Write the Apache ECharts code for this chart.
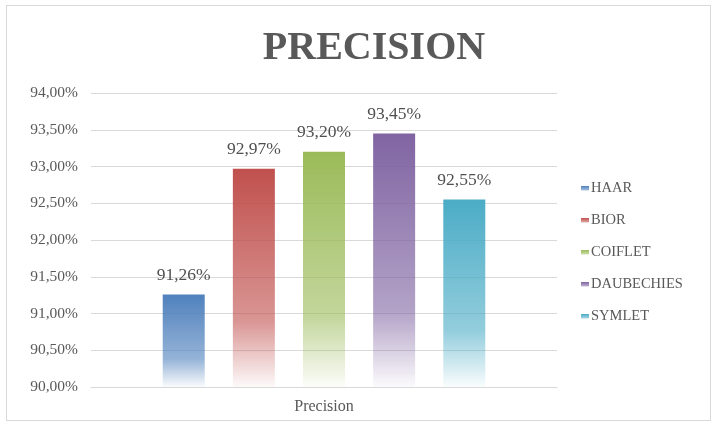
<!DOCTYPE html>
<html><head><meta charset="utf-8">
<script src="https://cdn.jsdelivr.net/npm/echarts@6/dist/echarts.min.js"></script>
<style>html,body{margin:0;padding:0;background:#fff}
#c{position:absolute;left:0;top:0;width:717px;height:427px}
#b{position:absolute;left:6px;top:5px;width:705px;height:416px;border:1px solid #d9d9d9;box-sizing:border-box}</style>
</head><body><div id="b"></div><div id="c"></div>
<script>
const categories = ['Precision'];
const seriesNames = ['HAAR', 'BIOR', 'COIFLET', 'DAUBECHIES', 'SYMLET'];
const seriesValues = [91.26, 92.97, 93.20, 93.45, 92.55];
const seriesColors = ['#4F81BD', '#C0504D', '#9BBB59', '#8064A2', '#4BACC6'];

function hexA(h, a) {
  const r = parseInt(h.slice(1,3),16), g = parseInt(h.slice(3,5),16), b = parseInt(h.slice(5,7),16);
  return 'rgba(' + r + ',' + g + ',' + b + ',' + a + ')';
}
const fmt = v => v.toFixed(2).replace('.', ',') + '%';
const serif = '"Liberation Serif", "DejaVu Serif", serif';

const chart = echarts.init(document.getElementById('c'));
chart.setOption({
  animation: false,
  title: { text: 'PRECISION', left: 369, top: 24, textAlign: 'center',
    textStyle: { fontFamily: serif, fontWeight: 'bold', fontSize: 40, color: '#595959' } },
  legend: { orient: 'vertical', left: 576, top: 176, itemGap: 17, itemWidth: 8, itemHeight: 5,
    icon: 'rect', textStyle: { fontFamily: serif, fontSize: 14.5, color: '#595959', padding: [0,0,0,-3] } },
  grid: { left: 91, right: 160, top: 93, bottom: 40 },
  xAxis: { type: 'category', data: categories,
    axisLine: { lineStyle: { color: '#d9d9d9', width: 1 } }, axisTick: { show: false },
    axisLabel: { fontFamily: serif, fontSize: 16, color: '#595959', margin: 12 } },
  yAxis: { type: 'value', min: 90, max: 94, interval: 0.5,
    axisLabel: { formatter: fmt, fontFamily: serif, fontSize: 15.5, color: '#595959', margin: 13 },
    splitLine: { lineStyle: { color: '#d9d9d9' } } },
  series: seriesNames.map((n, i) => ({
    name: n, type: 'bar', barWidth: 42, barGap: '67%',
    data: [seriesValues[i]],
    itemStyle: { color: new echarts.graphic.LinearGradient(0, 0, 0, 1, [
      { offset: 0, color: hexA(seriesColors[i], 1) },
      { offset: 0.7, color: hexA(seriesColors[i], 0.6) },
      { offset: 1, color: hexA(seriesColors[i], 0.03) } ]) },
    label: { show: true, position: 'top', distance: 10, formatter: p => fmt(p.value),
      fontFamily: serif, fontSize: 17.5, color: '#505050' }
  }))
});
</script></body></html>
